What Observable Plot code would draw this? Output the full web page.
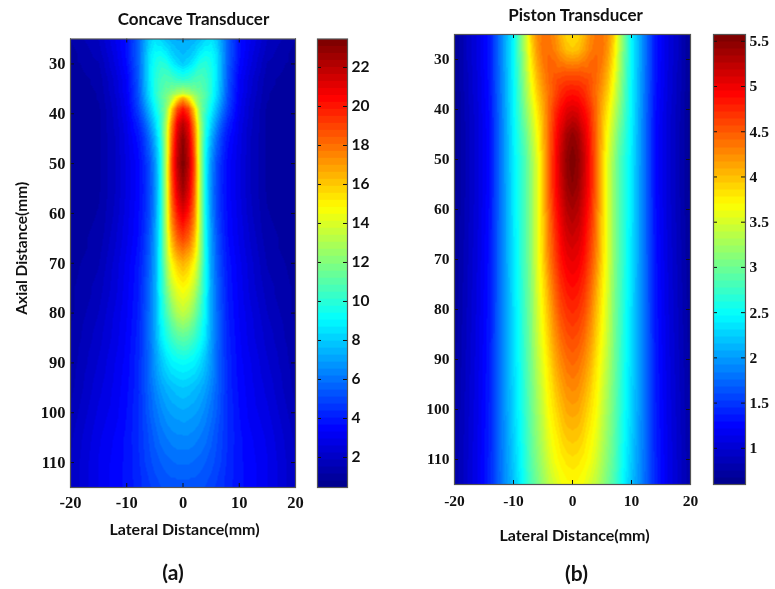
<!DOCTYPE html>
<html><head><meta charset="utf-8">
<script src="https://cdn.jsdelivr.net/npm/d3@7"></script>
<script src="https://cdn.jsdelivr.net/npm/@observablehq/plot@0.6"></script>
<style>
html,body{margin:0;padding:0;background:#fff}
#c{position:relative;width:775px;height:589px;overflow:hidden;filter:blur(0.4px)}
#c>div{position:absolute;top:0}
svg{display:block}
</style></head><body><div id="c"></div>
<script>
// Lateral positions (mm) of each half-profile; the beam is mirrored about 0.
const lateralA = [0,1,2,3,4,5,6,7,8,10,12,15,20];
const axialA = [25,28,30,33,36,37,39,42,45,50,55,60,65,70,75,80,85,90,95,100,105,110,115];
const concaveRows = [
 [7.2,7.2,7.4,7.8,8.3,8.6,8.0,6.8,5.5,3.8,3.0,1.9,1.2],
 [7.6,7.8,8.2,8.9,9.3,9.2,8.5,7.0,5.6,3.8,2.8,1.7,1.0],
 [8.0,8.4,9.0,9.8,10,9.5,8.6,7.0,5.5,3.7,2.7,1.5,1.0],
 [10,10.2,10.6,10.8,10.5,9.8,8.6,7.0,5.3,3.4,2.4,1.3,0.9],
 [13.5,13,12.3,11.6,10.9,9.8,8.4,6.8,5.2,3.3,2.3,1.2,0.9],
 [17,15.5,13.2,11.8,10.8,9.6,8.2,6.6,5.1,3.2,2.2,1.2,0.9],
 [20,18.8,15.8,12.3,10.5,9.1,7.6,6.1,4.8,3.1,2.1,1.1,0.9],
 [22,20.8,17.5,13,10,8.2,6.6,5.2,4.2,2.9,2,1.1,0.9],
 [23,21.5,18.2,13.2,9.6,7.4,5.8,4.6,3.8,2.8,1.9,1.1,0.9],
 [23.4,22,19,13.3,9.2,6.7,5.1,4.2,3.5,2.7,1.9,1.1,0.9],
 [22.6,21.3,18.5,13.3,9.2,6.5,5,4.1,3.5,2.7,1.9,1.1,0.9],
 [21,20,17.8,13.2,9.3,6.7,5.1,4.2,3.6,2.8,2,1.2,0.9],
 [19,18.3,16.5,13,9.4,7,5.4,4.4,3.7,2.9,2.2,1.3,1],
 [16.5,16,14.8,12.4,9.5,7.1,5.6,4.6,3.9,3.1,2.4,1.5,1],
 [14.8,14.4,13.4,11.6,9.4,7.2,5.8,4.8,4,3.2,2.5,1.7,1.1],
 [13.4,13,12,10.6,9.1,7.2,5.9,4.9,4.1,3.3,2.7,1.9,1.1],
 [11.2,11,10.4,9.6,8.6,7.1,5.9,5,4.2,3.4,2.8,2.1,1.2],
 [9.2,9.1,8.9,8.4,7.7,6.8,5.8,5,4.3,3.5,3,2.3,1.3],
 [8,7.9,7.7,7.4,7,6.4,5.7,5,4.3,3.6,3.1,2.5,1.4],
 [7.2,7.1,7,6.8,6.4,6,5.5,4.9,4.4,3.7,3.2,2.7,1.6],
 [6.5,6.5,6.4,6.2,6,5.6,5.2,4.8,4.4,3.8,3.4,2.9,1.8],
 [5.9,5.9,5.8,5.7,5.5,5.3,5,4.7,4.3,3.8,3.5,3,1.9],
 [5.3,5.3,5.3,5.2,5.1,4.9,4.7,4.5,4.2,3.8,3.5,3,1.9]
];
const lateralB = [0,1,2,3,4,5,6,7,8,9,10,12,14,16,18,20];
const axialB = [25,28,30,33,36,40,45,50,55,60,70,80,90,100,110,115];
const pistonRows = [
 [3.85,3.9,4.05,4.25,4.35,4.35,4.25,3.95,3.4,2.9,2.45,1.9,1.35,1.1,0.9,0.65],
 [3.95,4,4.15,4.3,4.4,4.38,4.2,3.85,3.35,2.9,2.47,1.9,1.35,1.1,0.9,0.65],
 [4.2,4.22,4.3,4.4,4.42,4.35,4.15,3.8,3.3,2.88,2.47,1.9,1.35,1.1,0.9,0.65],
 [4.55,4.55,4.52,4.5,4.42,4.28,4.05,3.7,3.25,2.85,2.47,1.88,1.35,1.08,0.88,0.65],
 [4.8,4.78,4.7,4.55,4.4,4.2,3.95,3.6,3.2,2.8,2.45,1.88,1.33,1.08,0.88,0.65],
 [5.1,5.05,4.9,4.7,4.42,4.1,3.8,3.45,3.1,2.75,2.45,1.86,1.32,1.06,0.86,0.65],
 [5.45,5.35,5.1,4.8,4.45,4.05,3.65,3.3,2.95,2.68,2.42,1.85,1.3,1.05,0.85,0.65],
 [5.57,5.45,5.2,4.85,4.45,4,3.55,3.2,2.85,2.62,2.4,1.85,1.3,1.05,0.85,0.65],
 [5.5,5.4,5.15,4.85,4.45,3.98,3.55,3.15,2.85,2.6,2.38,1.85,1.3,1.05,0.85,0.65],
 [5.35,5.27,5.05,4.78,4.4,3.95,3.55,3.15,2.85,2.6,2.38,1.85,1.32,1.06,0.86,0.66],
 [5.05,5,4.85,4.6,4.3,3.9,3.55,3.15,2.85,2.6,2.36,1.85,1.34,1.08,0.88,0.68],
 [4.75,4.7,4.58,4.35,4.05,3.75,3.45,3.1,2.82,2.55,2.33,1.85,1.36,1.1,0.9,0.7],
 [4.45,4.4,4.28,4.1,3.85,3.6,3.35,3.05,2.78,2.52,2.3,1.85,1.38,1.12,0.92,0.72],
 [4.15,4.12,4,3.85,3.7,3.45,3.22,2.98,2.72,2.48,2.28,1.85,1.4,1.14,0.94,0.74],
 [3.85,3.82,3.75,3.65,3.5,3.3,3.1,2.9,2.65,2.42,2.22,1.83,1.42,1.16,0.96,0.76],
 [3.7,3.68,3.62,3.5,3.38,3.2,3.02,2.82,2.6,2.38,2.18,1.82,1.42,1.16,0.96,0.76]
];
const xTicks = [-20,-10,0,10,20];
const yTicks = [30,40,50,60,70,80,90,100,110];
const cbTicksA = [2,4,6,8,10,12,14,16,18,20,22];
const cbTicksB = [1,1.5,2,2.5,3,3.5,4,4.5,5,5.5];
const domainA = [0.46,23.46];
const domainB = [0.6,5.575];
const jetStops = ["#000090","#0000ff","#00ffff","#ffff00","#ff0000","#800000"];
const jetPos = [0,0.125,0.375,0.625,0.875,1];

const jetScale = d3.scaleLinear().domain(jetPos).range(jetStops);
const jet = d3.quantize(t => jetScale(t), 64);
const SERIF = "'Liberation Serif',serif", SANS = "Lato,sans-serif";
const INK = "#111", EDGE = "#555";

function grid(lateral, axial, rows){
  const out = [];
  rows.forEach((row,j)=>row.forEach((v,i)=>{
    out.push({x:lateral[i],y:axial[j],v});
    if(lateral[i]!==0) out.push({x:-lateral[i],y:axial[j],v});
  }));
  return out;
}
function place(el,left){const d=document.createElement("div");d.style.left=left+"px";d.appendChild(el);document.getElementById("c").appendChild(d);}

function panel(o){
  const W=o.width, fw=W-o.ml-o.mr, fh=589-o.mt-o.mb;
  place(Plot.plot({
    width:W,height:589,marginLeft:o.ml,marginRight:o.mr,marginTop:o.mt,marginBottom:o.mb,
    style:{background:"transparent",overflow:"visible"},
    x:{domain:[-20,20],label:null},
    y:{domain:[25,115],reverse:true,label:null},
    color:{type:"quantize",domain:o.domain,range:jet},
    marks:[
      Plot.raster(grid(o.lateral,o.axial,o.rows),{x:"x",y:"y",fill:"v",x1:-20,x2:20,y1:25,y2:115,interpolate:"barycentric",pixelSize:1}),
      Plot.tickX(xTicks,{x:d=>d,stroke:INK,insetBottom:fh-4}),
      Plot.tickX(xTicks,{x:d=>d,stroke:INK,insetTop:fh-4}),
      Plot.tickY(yTicks,{y:d=>d,stroke:INK,insetRight:fw-4}),
      Plot.tickY(yTicks,{y:d=>d,stroke:INK,insetLeft:fw-4}),
      Plot.axisX(xTicks,{anchor:"bottom",tickSize:0,tickPadding:o.xPad,tickFormat:String,fontFamily:SERIF,fontWeight:"bold",fontSize:o.tickFont,fill:INK,label:null}),
      Plot.axisY(yTicks,{anchor:"left",tickSize:0,tickPadding:5,tickFormat:String,fontFamily:SERIF,fontWeight:"bold",fontSize:o.tickFont,fill:INK,label:null}),
      Plot.frame({stroke:EDGE,strokeWidth:1.2}),
      Plot.text([o.title],{frameAnchor:"top",dx:o.titleDx,dy:o.titleDy,fontFamily:SANS,fontWeight:"bold",fontSize:o.titleFont,fill:INK}),
      Plot.text(["Lateral Distance(mm)"],{frameAnchor:"bottom",dx:o.xlDx,dy:o.xlDy,fontFamily:SANS,fontWeight:"bold",fontSize:16,fill:INK}),
      Plot.text([o.cap],{frameAnchor:"bottom",dx:o.capDx,dy:o.capDy,fontFamily:SANS,fontWeight:"bold",fontSize:21,fill:INK}),
      ...(o.ylabel?[Plot.text([o.ylabel],{frameAnchor:"left",textAnchor:"middle",dx:-48,dy:o.ylDy,rotate:-90,fontFamily:SANS,fontWeight:"bold",fontSize:15.5,fill:INK})]:[])
    ]
  }),o.left);
}
function colorbar(o){
  const W=o.width, fw=W-o.ml-o.mr;
  place(Plot.plot({
    width:W,height:589,marginLeft:o.ml,marginRight:o.mr,marginTop:o.mt,marginBottom:o.mb,
    style:{background:"transparent",overflow:"visible"},
    x:{domain:[0,1],axis:null},
    y:{domain:o.domain,label:null},
    color:{type:"quantize",domain:o.domain,range:jet},
    marks:[
      Plot.raster({fill:(x,y)=>y,x1:0,x2:1,y1:o.domain[0],y2:o.domain[1],pixelSize:1}),
      Plot.tickY(o.ticks,{y:d=>d,stroke:INK,insetRight:fw-4}),
      Plot.tickY(o.ticks,{y:d=>d,stroke:INK,insetLeft:fw-4}),
      Plot.axisY(o.ticks,{anchor:"right",tickSize:0,tickPadding:o.pad,tickFormat:String,fontFamily:o.font,fontWeight:"bold",fontSize:o.fontSize,fill:INK,label:null}),
      Plot.frame({stroke:EDGE,strokeWidth:1.2})
    ]
  }),o.left);
}

panel({left:0,width:305,ml:70,mr:10,mt:38.5,mb:102,lateral:lateralA,axial:axialA,rows:concaveRows,domain:domainA,
  title:"Concave Transducer",titleFont:17,titleDx:10.5,titleDy:-26,cap:"(a)",capDx:-10,capDy:92,ylabel:"Axial Distance(mm)",ylDy:-15,
  xlDx:1.5,xlDy:47,xPad:9,tickFont:16.5});
colorbar({left:305,width:80,ml:12,mr:38,mt:38.5,mb:102,domain:domainA,ticks:cbTicksA,font:SANS,fontSize:15.5,pad:4});
panel({left:385,width:315,ml:69,mr:10,mt:34,mb:105,lateral:lateralB,axial:axialB,rows:pistonRows,domain:domainB,
  title:"Piston Transducer",titleFont:17,titleDx:3,titleDy:-26,cap:"(b)",capDx:4,capDy:96,ylabel:null,
  xlDx:2,xlDy:56,xPad:10,tickFont:15.5});
colorbar({left:700,width:75,ml:13,mr:30,mt:34,mb:105,domain:domainB,ticks:cbTicksB,font:SERIF,fontSize:15.5,pad:4});
</script></body></html>
